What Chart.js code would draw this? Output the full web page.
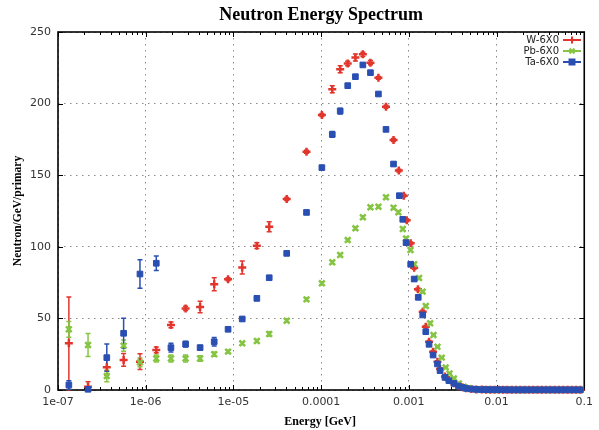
<!DOCTYPE html>
<html>
<head>
<meta charset="utf-8">
<title>Neutron Energy Spectrum</title>
<script src="https://cdn.jsdelivr.net/npm/chart.js@4.4.1/dist/chart.umd.min.js"></script>
<style>
  body { margin: 0; background: #fff; }
  #wrap { width: 599px; height: 430px; }
</style>
</head>
<body>
<div id="wrap"><canvas id="spectrum" width="599" height="430"></canvas></div>
<script>
// axis ticks
const xTickValues = [1e-7, 1e-6, 1e-5, 1e-4, 1e-3, 1e-2, 1e-1];
const xTickLabels = ['1e-07', '1e-06', '1e-05', '0.0001', '0.001', '0.01', '0.1'];
const seriesNames = ['W-6X0', 'Pb-6X0', 'Ta-6X0'];

// W-6X0
const energyW = [1.33e-7, 2.2e-7, 3.6e-7, 5.6e-7, 8.6e-7, 1.32e-6, 1.94e-6, 2.85e-6, 4.17e-6, 6.04e-6,
  8.69e-6, 1.26e-5, 1.85e-5, 2.56e-5, 4.05e-5, 6.81e-5, 1.02e-4, 1.34e-4, 1.65e-4, 2.01e-4,
  2.46e-4, 2.99e-4, 3.65e-4, 4.5e-4, 5.49e-4, 6.69e-4, 7.69e-4, 8.76e-4, 9.46e-4, 1.05e-3,
  1.15e-3, 1.27e-3, 1.44e-3, 1.56e-3, 1.7e-3, 1.89e-3, 2.12e-3, 2.27e-3, 2.58e-3, 2.86e-3,
  3.26e-3, 3.68e-3, 4.08e-3, 4.53e-3, 5.16e-3, 5.88e-3];
const valueW = [32.6, 2.3, 15.8, 21, 19.8, 28, 45.4, 57, 58, 73.8,
  77.3, 85.5, 100.8, 114, 133.4, 166.4, 192, 210, 224, 228,
  232.2, 234.4, 228.6, 218, 197.8, 174.6, 153.2, 135.7, 118.5, 102.4,
  85.4, 70.3, 54.7, 44.2, 33.7, 26.7, 19.8, 14.7, 9.5, 7,
  4.8, 3, 2, 1.2, 0.7, 0.4];
const errorW = [32.4, 3.5, 5.5, 4.5, 5.5, 2, 2, 1.5, 4, 4.5,
  1, 4.5, 2, 3.5, 1, 1, 1, 2.5, 2.5, 1.5,
  2.5, 1.5, 1.5, 1, 1, 1, 1, 1, 1, 1,
  1, 1, 1, 0.8, 0.8, 0.8, 0.6, 0.6, 0.5, 0.5,
  0.4, 0.4, 0.3, 0.3, 0.2, 0.2];

// Pb-6X0
const energyPb = [1.33e-7, 2.2e-7, 3.6e-7, 5.6e-7, 8.6e-7, 1.32e-6, 1.94e-6, 2.85e-6, 4.17e-6, 6.04e-6,
  8.69e-6, 1.26e-5, 1.85e-5, 2.56e-5, 4.05e-5, 6.81e-5, 1.02e-4, 1.34e-4, 1.65e-4, 2.01e-4,
  2.46e-4, 2.99e-4, 3.65e-4, 4.5e-4, 5.49e-4, 6.69e-4, 7.6e-4, 8.53e-4, 9.3e-4, 1.045e-3,
  1.15e-3, 1.31e-3, 1.435e-3, 1.56e-3, 1.75e-3, 1.91e-3, 2.12e-3, 2.37e-3, 2.63e-3, 2.91e-3,
  3.26e-3, 3.71e-3, 4.23e-3, 4.78e-3, 5.43e-3, 6.35e-3];
const valuePb = [42.4, 31.4, 9.8, 31, 19.3, 22, 22, 22, 22, 25,
  26.8, 32.6, 34.2, 39.1, 48.4, 63.3, 74.5, 89.2, 94.3, 104.7,
  112.9, 120.6, 127.6, 128, 134.6, 127.3, 124.1, 112.4, 105.9, 97.8,
  87.9, 78.2, 68.7, 58.7, 46.6, 38.4, 30.2, 22.6, 15.8, 11.6,
  8.1, 4.6, 2.3, 1.3, 0.8, 0.4];
const errorPb = [5.5, 8, 4, 4, 3, 2.5, 2.5, 2.5, 2, 1.5,
  1, 1, 1, 1.5, 1, 1, 1, 1, 1, 1,
  1, 1, 1, 1, 1, 1, 1, 1, 1, 1,
  1, 1, 0.8, 0.8, 0.8, 0.6, 0.6, 0.5, 0.5, 0.4,
  0.4, 0.3, 0.3, 0.2, 0.2, 0.2];

// Ta-6X0
const energyTa = [1.33e-7, 2.2e-7, 3.6e-7, 5.6e-7, 8.6e-7, 1.32e-6, 1.94e-6, 2.85e-6, 4.17e-6, 6.04e-6,
  8.69e-6, 1.26e-5, 1.85e-5, 2.56e-5, 4.05e-5, 6.81e-5, 1.02e-4, 1.34e-4, 1.65e-4, 2.01e-4,
  2.46e-4, 2.99e-4, 3.65e-4, 4.5e-4, 5.49e-4, 6.69e-4, 7.8e-4, 8.53e-4, 9.3e-4, 1.05e-3,
  1.15e-3, 1.28e-3, 1.44e-3, 1.56e-3, 1.7e-3, 1.89e-3, 2.12e-3, 2.27e-3, 2.58e-3, 2.86e-3,
  3.26e-3, 3.68e-3, 4.08e-3, 4.53e-3, 5.16e-3, 5.88e-3];
const valueTa = [3.5, 0.5, 22.6, 39.6, 81, 88.5, 29.6, 32, 29.6, 33.7,
  42.4, 49.6, 64, 78.4, 95.4, 124, 155.3, 178.5, 194.8, 212.5,
  218.8, 227, 221.6, 206.7, 182, 157.8, 135.7, 119.2, 102.9, 87.8,
  77.5, 64.7, 52.4, 40.7, 31.9, 24.4, 18.2, 13.5, 8.8, 6.5,
  4.6, 2.8, 1.8, 1.1, 0.7, 0.4];
const errorTa = [3, 1, 9.5, 10.5, 10, 5, 3, 2, 1.5, 3,
  1, 1, 1.5, 1, 1, 1, 1, 2, 2, 1.5,
  1, 1, 1, 1, 1, 1, 1, 1, 1, 1,
  1, 1, 0.8, 0.8, 0.8, 0.6, 0.6, 0.5, 0.5, 0.4,
  0.4, 0.3, 0.3, 0.2, 0.2, 0.2];

// high energy tail, all near zero
const tailEnergy = [6.8e-3, 7.6e-3, 8.5e-3, 9.5e-3, 0.0106, 0.0119, 0.0133, 0.0149, 0.0167, 0.0187,
  0.0209, 0.0234, 0.0262, 0.0293, 0.0328, 0.0367, 0.0411, 0.046, 0.0515, 0.0576,
  0.0645, 0.0722, 0.0808, 0.0904];
const tailW = [0.3, 0.25, 0.2, 0.2, 0.15, 0.15, 0.1, 0.1, 0.1, 0.1,
  0.1, 0.1, 0.1, 0.1, 0.1, 0.1, 0.1, 0.1, 0.1, 0.1, 0.1, 0.1, 0.1, 0.1];
const tailPb = [0.3, 0.3, 0.2, 0.2, 0.2, 0.15, 0.15, 0.1, 0.1, 0.1,
  0.1, 0.1, 0.1, 0.1, 0.1, 0.1, 0.1, 0.1, 0.1, 0.1, 0.1, 0.1, 0.1, 0.1];
const tailTa = [0.3, 0.25, 0.2, 0.2, 0.2, 0.15, 0.15, 0.1, 0.1, 0.1,
  0.1, 0.1, 0.1, 0.1, 0.1, 0.1, 0.1, 0.1, 0.1, 0.1, 0.1, 0.1, 0.1, 0.1];

const RED = '#e2352c';
const GREEN = '#86c443';
const BLUE = '#2a4fb2';

function points(energy, value) {
  return energy.map((e, i) => ({ x: e, y: value[i] }));
}

const errorSets = [errorW, errorPb, errorTa];
const styles = [
  { color: RED, pointStyle: 'cross', radius: 4, borderWidth: 2.5 },
  { color: GREEN, pointStyle: 'crossRot', radius: 4, borderWidth: 2.5 },
  { color: BLUE, pointStyle: 'rect', radius: 4, borderWidth: 1 }
];

// gnuplot-like frame, ticks, error bars, title and key
const gnuplotLook = {
  id: 'gnuplotLook',
  beforeDatasetsDraw(chart) {
    const { ctx, chartArea: a, scales: { x, y } } = chart;
    ctx.save();
    ctx.strokeStyle = '#000';
    ctx.lineWidth = 1;
    ctx.beginPath();
    for (let d = -7; d < -1; d++) {
      for (let k = 2; k <= 9; k++) {
        const px = Math.round(x.getPixelForValue(k * Math.pow(10, d))) + 0.5;
        ctx.moveTo(px, a.bottom); ctx.lineTo(px, a.bottom - 3);
        ctx.moveTo(px, a.top); ctx.lineTo(px, a.top + 3);
      }
    }
    xTickValues.forEach(v => {
      const px = Math.round(x.getPixelForValue(v)) + 0.5;
      ctx.moveTo(px, a.bottom); ctx.lineTo(px, a.bottom - 5);
      ctx.moveTo(px, a.top); ctx.lineTo(px, a.top + 5);
    });
    y.ticks.forEach(t => {
      const py = Math.round(y.getPixelForValue(t.value)) + 0.5;
      ctx.moveTo(a.left, py); ctx.lineTo(a.left + 5, py);
      ctx.moveTo(a.right, py); ctx.lineTo(a.right - 5, py);
    });
    ctx.stroke();
    ctx.lineWidth = 1.6;
    ctx.strokeRect(a.left, a.top, a.right - a.left, a.bottom - a.top);

    // error bars, drawn under the markers
    chart.data.datasets.forEach((ds, i) => {
      const meta = chart.getDatasetMeta(i);
      const errs = errorSets[i];
      ctx.strokeStyle = styles[i].color;
      ctx.lineWidth = 1.5;
      ctx.beginPath();
      meta.data.forEach((pt, j) => {
        const e = errs[j];
        if (!e) return;
        const v = ds.data[j].y;
        const yHi = y.getPixelForValue(v + e);
        const yLo = y.getPixelForValue(Math.max(v - e, 0));
        ctx.moveTo(pt.x, yHi); ctx.lineTo(pt.x, yLo);
        ctx.moveTo(pt.x - 2.5, yHi); ctx.lineTo(pt.x + 2.5, yHi);
        ctx.moveTo(pt.x - 2.5, yLo); ctx.lineTo(pt.x + 2.5, yLo);
      });
      ctx.stroke();
    });
    ctx.restore();
  },
  afterDraw(chart) {
    const { ctx, chartArea: a } = chart;
    ctx.save();
    ctx.fillStyle = '#000';
    ctx.textAlign = 'center';
    ctx.textBaseline = 'alphabetic';
    ctx.font = 'bold 18px "Liberation Serif"';
    ctx.fillText('Neutron Energy Spectrum', (a.left + a.right) / 2, 19.5);
    ctx.font = 'bold 12px "Liberation Serif"';
    ctx.fillText('Energy [GeV]', (a.left + a.right) / 2 - 1, 425);
    ctx.save();
    ctx.translate(21, (a.top + a.bottom) / 2);
    ctx.rotate(-Math.PI / 2);
    ctx.font = 'bold 11.5px "Liberation Serif"';
    ctx.fillText('Neutron/GeV/primary', 0, 0);
    ctx.restore();

    // key
    ctx.font = '10px "DejaVu Sans"';
    ctx.textAlign = 'right';
    ctx.textBaseline = 'middle';
    seriesNames.forEach((name, i) => {
      const ky = 40 + i * 11;
      const s = styles[i];
      ctx.fillStyle = '#222';
      ctx.fillText(name, 559, ky);
      ctx.strokeStyle = s.color;
      ctx.fillStyle = s.color;
      ctx.lineWidth = 2;
      ctx.beginPath();
      ctx.moveTo(563, ky); ctx.lineTo(581, ky);
      ctx.stroke();
      Chart.helpers.drawPoint(ctx, {
        pointStyle: s.pointStyle, radius: s.radius - 0.5, borderWidth: s.borderWidth, rotation: 0
      }, 572, ky);
    });
    ctx.restore();
  }
};

function dataset(i, energy, value) {
  const s = styles[i];
  return {
    label: seriesNames[i],
    data: points(energy, value),
    showLine: false,
    pointStyle: s.pointStyle,
    pointRadius: s.radius,
    pointBorderWidth: s.borderWidth,
    pointBackgroundColor: s.color,
    pointBorderColor: s.color,
    borderColor: s.color,
    backgroundColor: s.color,
    clip: false,
    order: 3 - i
  };
}

new Chart(document.getElementById('spectrum'), {
  type: 'scatter',
  data: {
    datasets: [
      dataset(0, energyW.concat(tailEnergy), valueW.concat(tailW)),
      dataset(1, energyPb.concat(tailEnergy), valuePb.concat(tailPb)),
      dataset(2, energyTa.concat(tailEnergy), valueTa.concat(tailTa))
    ]
  },
  options: {
    responsive: false,
    animation: false,
    layout: { padding: { top: 32, right: 9, left: 0, bottom: 0 } },
    plugins: {
      legend: { display: false },
      title: { display: false },
      tooltip: { enabled: false }
    },
    scales: {
      x: {
        type: 'logarithmic',
        min: 1e-7,
        max: 0.1,
        afterBuildTicks: scale => { scale.ticks = xTickValues.map(v => ({ value: v })); },
        afterFit: scale => { scale.height = 40; },
        ticks: {
          autoSkip: false,
          maxRotation: 0,
          padding: 6,
          color: '#333',
          font: { family: 'DejaVu Sans', size: 11 },
          callback: (v, i) => xTickLabels[i]
        },
        grid: { color: '#8a8a8a', lineWidth: 1, drawTicks: false },
        border: { display: false, dash: [1.5, 4.5] }
      },
      y: {
        min: 0,
        max: 250,
        afterFit: scale => { scale.width = 58; },
        ticks: {
          stepSize: 50,
          padding: 7,
          color: '#333',
          font: { family: 'DejaVu Sans', size: 11 }
        },
        grid: { color: '#8a8a8a', lineWidth: 1, drawTicks: false },
        border: { display: false, dash: [1.5, 4.5] }
      }
    }
  },
  plugins: [gnuplotLook]
});
</script>
</body>
</html>
